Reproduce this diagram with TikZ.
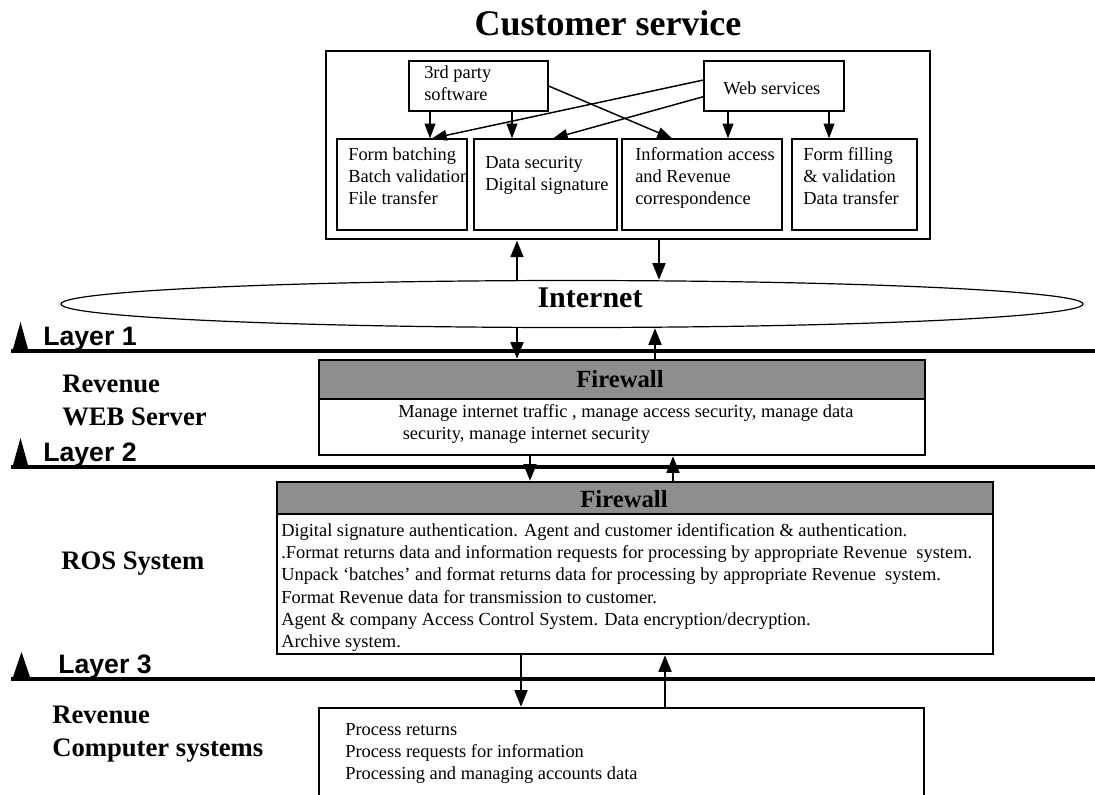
\documentclass[tikz,border=0pt]{standalone}
\usepackage{fontspec}
\setmainfont{Liberation Serif}
\newfontfamily\layerfont{Liberation Sans}
\usetikzlibrary{arrows.meta,shapes.geometric,fit}
\definecolor{fwgray}{RGB}{142,142,142}
\tikzset{>={Triangle[width=8pt,length=11pt]}}

\begin{document}
\begin{tikzpicture}[x=0.75pt,y=-0.75pt,
  box/.style={draw, line width=0.9pt, inner sep=0pt},
  custbox/.style={draw, line width=2.2pt, inner sep=0pt},
  fwbox/.style={draw, line width=1.7pt, inner sep=0pt},
  band/.style={draw, fill=fwgray, line width=1.7pt, inner sep=0pt},
  fwtitle/.style={inner sep=0pt, anchor=base, font=\fontsize{18.5}{20}\selectfont\bfseries},
  txt/.style={inner sep=0pt, align=left, anchor=north west, font=\fontsize{13.8}{16.5}\selectfont},
  lbl/.style={inner sep=0pt, align=left, anchor=north west, font=\fontsize{20}{24.5}\selectfont\bfseries},
  layer/.style={inner sep=0pt, anchor=base west, font=\layerfont\fontsize{20}{24}\selectfont\bfseries},
  layerline/.style={line width=3.6pt},
  inarr/.style={->, line width=1.1pt},
  bigarr/.style={-{Triangle[width=9.5pt,length=12.5pt]}, line width=2pt},
]
\clip (0,0) rectangle (1095,794);

\node[inner sep=0pt, anchor=base, font=\fontsize{27}{30}\selectfont\bfseries] (title) at (608,35) {Customer service};

% customer side
\node[custbox, fit={(326,51) (930,239)}] (cust) {};
\node[box, fit={(409,61) (548,111)}] (third) {};
\node[txt] (thirdtxt) at (424,65.5) {3rd party\\software};
\node[box, fit={(704,61) (844,111)}] (web) {};
\node[txt, anchor=base west] (webtxt) at (723,94) {Web services};

\node[box, fit={(337,139) (467,230)}] (fbatch) {};
\node[box, fit={(474,139) (617,230)}] (datasec) {};
\node[box, fit={(622,139) (782,230)}] (info) {};
\node[box, fit={(792,139) (917,230)}] (fform) {};
\node[txt] (fbatchtxt) at (348,147.5) {Form batching\\Batch validation\\File transfer};
\node[txt] (datasectxt) at (485,156) {Data security\\Digital signature};
\node[txt] (infotxt) at (635,147) {Information access\\and Revenue\\correspondence};
\node[txt] (fformtxt) at (803,147) {Form filling\\\& validation\\Data transfer};

\draw[inarr] (430,0 |- third.south) -- (430,0 |- fbatch.north);
\draw[inarr] (512,0 |- third.south) -- (512,0 |- datasec.north);
\draw[inarr] (third.east) -- (672,0 |- info.north);
\draw[inarr] ([yshift=4.5pt]web.west) -- (432,0 |- fbatch.north);
\draw[inarr] ([yshift=-8pt]web.west) -- (553,0 |- datasec.north);
\draw[inarr] (728,0 |- web.south) -- (728,0 |- info.north);
\draw[inarr] (829,0 |- web.south) -- (829,0 |- fform.north);

% internet
\node[draw, ellipse, line width=0.9pt, inner sep=0pt, minimum width=766.5pt, minimum height=35.25pt] (inet) at (572,304) {};
\node[inner sep=0pt, anchor=base, font=\fontsize{22.5}{25}\selectfont\bfseries] (inettxt) at (590,307) {Internet};

% layers
\draw[layerline] (11,351) -- (1095,351);
\draw[layerline] (11,467) -- (1095,467);
\draw[layerline] (11,679) -- (1095,679);
\fill (13,349) -- (20.5,322) -- (28,349) -- cycle;
\fill (13,465) -- (20.5,438) -- (28,465) -- cycle;
\fill (13,677) -- (21.5,652) -- (30,677) -- cycle;
\node[layer] (layer1) at (43,345) {Layer 1};
\node[layer] (layer2) at (43,461) {Layer 2};
\node[layer] (layer3) at (58,673) {Layer 3};

% web server
\node[fwbox, fit={(319,360) (925,455)}] (fw1) {};
\node[band, fit={(319,360) (925,399)}] (fw1band) {};
\node[fwtitle] (fw1title) at (620,387) {Firewall};
\node[txt] (fw1txt) at (398,404.5) {Manage internet traffic , manage access security, manage data\\\hspace*{3.4pt}security, manage internet security};
\node[lbl] (websrv) at (62,375) {Revenue\\WEB Server};

% ROS
\node[fwbox, fit={(277,482) (993,654)}] (fw2) {};
\node[band, fit={(277,482) (993,514)}] (fw2band) {};
\node[fwtitle] (fw2title) at (624,507) {Firewall};
\node[txt, font=\fontsize{13.8}{16.7}\selectfont] (fw2txt) at (281,523) {Digital signature authentication. Agent and customer identification \& authentication.\\
.Format returns data and information requests for processing by appropriate Revenue~ system.\\
Unpack `batches' and format returns data for processing by appropriate Revenue~ system.\\
Format Revenue data for transmission to customer.\\
Agent \& company Access Control System. Data encryption/decryption.\\
Archive system.};
\node[lbl, anchor=base west] (ros) at (61,569) {ROS System};

% revenue computer systems
\node[fwbox, fit={(319,708) (924,830)}] (comp) {};
\node[txt] (comptxt) at (345,723) {Process returns\\Process requests for information\\Processing and managing accounts data};
\node[lbl] (compsys) at (52,706) {Revenue\\Computer systems};

\draw[bigarr] (517,0 |- inet.north) -- (517,0 |- cust.south);
\draw[bigarr] (659,0 |- cust.south) -- (659,0 |- inet.north);
\draw[bigarr] (517,0 |- inet.south) -- (517,0 |- fw1.north);
\draw[bigarr] (655,0 |- fw1.north) -- (655,0 |- inet.south);
\draw[bigarr] (530,0 |- fw1.south) -- (530,0 |- fw2.north);
\draw[bigarr] (673,0 |- fw2.north) -- (673,0 |- fw1.south);
\draw[bigarr] (521,0 |- fw2.south) -- (521,0 |- comp.north);
\draw[bigarr] (665,0 |- comp.north) -- (665,0 |- fw2.south);

\end{tikzpicture}
\end{document}
